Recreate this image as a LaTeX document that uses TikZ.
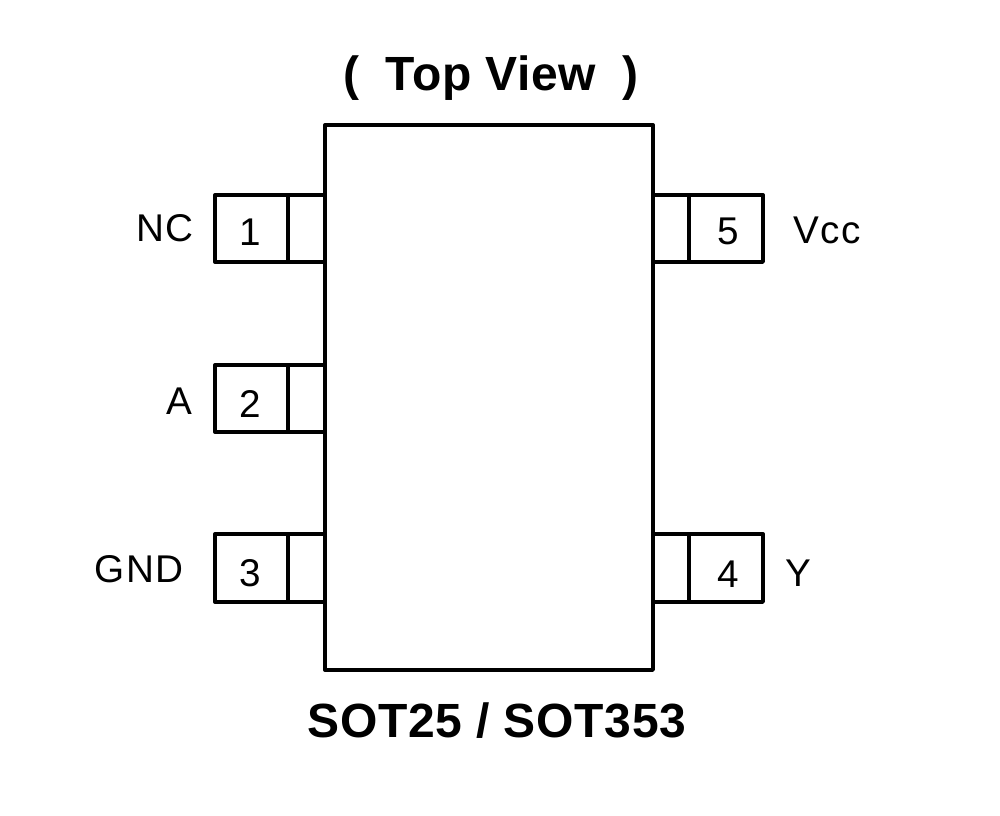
\documentclass[tikz,border=0pt]{standalone}
\usepackage{fontspec}
\setmainfont{Liberation Sans}
\newfontfamily\labf[LetterSpace=4.5]{Liberation Sans}
\newfontfamily\ttlf[LetterSpace=1.5]{Liberation Sans}
\tikzset{
 outl/.style={draw=black,line width=2.5pt,fill=white,line join=round},
 lab/.style={font=\labf\fontsize{29}{32}\selectfont,text=black,inner sep=0pt},
 ttl/.style={font=\ttlf\fontsize{36}{40}\bfseries\selectfont,text=black,inner sep=0pt}
}
\begin{document}
\begin{tikzpicture}[x=0.75pt,y=-0.75pt]
\useasboundingbox (0,0) rectangle (1000,815);
\draw[outl] (325,125) rectangle (653,670);
% left pins
\draw[outl] (215,195) rectangle (288,262);
\draw[outl] (288,195) rectangle (325,262);
\draw[outl] (215,365) rectangle (288,432);
\draw[outl] (288,365) rectangle (325,432);
\draw[outl] (215,534) rectangle (288,602);
\draw[outl] (288,534) rectangle (325,602);
% right pins
\draw[outl] (653,195) rectangle (689,262);
\draw[outl] (689,195) rectangle (763,262);
\draw[outl] (653,534) rectangle (689,602);
\draw[outl] (689,534) rectangle (763,602);
\node[lab] (n1) at (250,232) {1};
\node[lab] (n2) at (250,404) {2};
\node[lab] (n3) at (250,573) {3};
\node[lab] (n5) at (728,231) {5};
\node[lab] (n4) at (728,574) {4};
\node[lab] (nc) at (165,228) {NC};
\node[lab] (a) at (179,401) {A};
\node[lab] (gnd) at (139,569) {GND};
\node[lab] (vcc) at (827,230) {Vcc};
\node[lab] (y) at (798,573) {Y};
\node[ttl] (t) at (491,78) {(\hspace{0.55em}Top View\hspace{0.55em})};
\node[ttl] (b) at (497,721) {SOT25 / SOT353};
\end{tikzpicture}
\end{document}
